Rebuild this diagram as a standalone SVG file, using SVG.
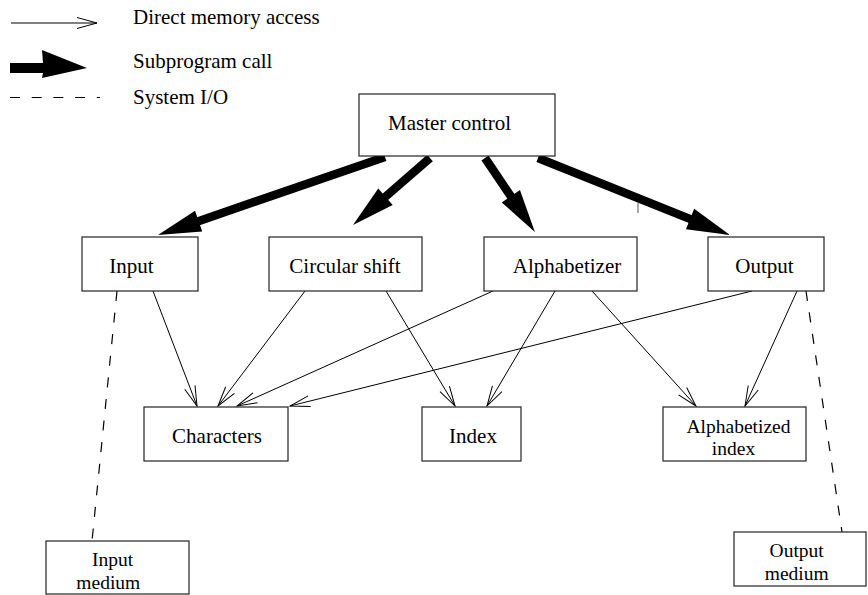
<svg xmlns="http://www.w3.org/2000/svg" width="868" height="595" viewBox="0 0 868 595">
  <style>
    .box { fill: #fff; stroke: #222; stroke-width: 1.2; }
    text { font-family: "Liberation Serif", "DejaVu Serif", "Times New Roman", serif; font-size: 21px; fill: #000; }
    .lbl { text-anchor: middle; }
    .two { font-size: 19.5px; }
    .mem { stroke: #000; stroke-width: 1; fill: none; marker-end: url(#open); }
    .call { stroke: #000; stroke-width: 8.5; stroke-linecap: butt; fill: none; marker-end: url(#solid); }
    .io { stroke: #000; stroke-width: 1.2; fill: none; stroke-dasharray: 10 11.7; }
  </style>
  <defs>
    <marker id="open" markerUnits="userSpaceOnUse" orient="auto" markerWidth="24" markerHeight="14" refX="22" refY="7" viewBox="0 0 24 14" overflow="visible">
      <path d="M2,1.5 L22,7 L2,12.5" fill="none" stroke="#000" stroke-width="1"/>
    </marker>
    <marker id="solid" markerUnits="userSpaceOnUse" orient="auto" markerWidth="44" markerHeight="24" refX="1" refY="12" viewBox="0 0 44 24" overflow="visible">
      <path d="M0,1 L43,12 L0,23 Z" fill="#000"/>
    </marker>
  </defs>

  <!-- legend -->
  <g id="legend">
    <line x1="11" y1="23" x2="97" y2="23" class="mem"/>
    <text x="133" y="23.5">Direct memory access</text>
    <path d="M10,63 L43,63 L42,50 L87,68 L42,78 L43,73 L10,73 Z" fill="#000"/>
    <text x="133" y="67.7">Subprogram call</text>
    <line x1="10" y1="97.5" x2="100" y2="97.5" class="io"/>
    <text x="133" y="104">System I/O</text>
  </g>

  <!-- connectors -->
  <g id="connectors">
    <!-- subprogram calls -->
    <line x1="385" y1="157" x2="197.7" y2="221.4" class="call"/>
    <line x1="430" y1="158" x2="384.7" y2="197.4" class="call"/>
    <line x1="485" y1="158" x2="511.4" y2="197.1" class="call"/>
    <line x1="538" y1="158" x2="691" y2="219.4" class="call"/>
    <!-- direct memory access -->
    <line x1="153" y1="291" x2="197" y2="406" class="mem"/>
    <line x1="305" y1="291" x2="218" y2="406" class="mem"/>
    <line x1="493" y1="291" x2="237" y2="406" class="mem"/>
    <line x1="752" y1="291" x2="290" y2="406" class="mem"/>
    <line x1="386" y1="291" x2="455" y2="406" class="mem"/>
    <line x1="555" y1="291" x2="487" y2="406" class="mem"/>
    <line x1="592" y1="291" x2="696" y2="406" class="mem"/>
    <line x1="797" y1="291" x2="745" y2="406" class="mem"/>
    <!-- system I/O -->
    <line x1="117" y1="291" x2="92" y2="541" class="io"/>
    <line x1="806" y1="291" x2="842" y2="532" class="io"/>
    <!-- stray tick -->
    <line x1="638" y1="203" x2="638" y2="213" stroke="#555" stroke-width="1"/>
  </g>

  <g id="master">
    <rect x="359" y="94" width="196" height="62" class="box"/>
    <text x="449.5" y="130" class="lbl">Master control</text>
  </g>
  <g id="input">
    <rect x="82" y="237" width="116" height="54" class="box"/>
    <text x="131.5" y="273" class="lbl">Input</text>
  </g>
  <g id="circular-shift">
    <rect x="269" y="237" width="153" height="54" class="box"/>
    <text x="345" y="273" class="lbl">Circular shift</text>
  </g>
  <g id="alphabetizer">
    <rect x="484" y="237" width="153" height="54" class="box"/>
    <text x="567" y="273" class="lbl">Alphabetizer</text>
  </g>
  <g id="output">
    <rect x="708" y="237" width="116" height="54" class="box"/>
    <text x="764.5" y="273" class="lbl">Output</text>
  </g>
  <g id="characters">
    <rect x="144" y="407" width="144" height="54" class="box"/>
    <text x="217" y="443" class="lbl">Characters</text>
  </g>
  <g id="index">
    <rect x="422" y="407" width="99" height="54" class="box"/>
    <text x="473" y="443" class="lbl">Index</text>
  </g>
  <g id="alphabetized-index">
    <rect x="663" y="407" width="143" height="54" class="box"/>
    <text x="738.5" y="432.5" class="lbl two">Alphabetized</text>
    <text x="733.5" y="455" class="lbl two">index</text>
  </g>
  <g id="input-medium">
    <rect x="46" y="541" width="143" height="53" class="box"/>
    <text x="112.5" y="566" class="lbl two">Input</text>
    <text x="108.3" y="588.5" class="lbl two">medium</text>
  </g>
  <g id="output-medium">
    <rect x="734" y="532" width="132" height="54" class="box"/>
    <text x="796.7" y="557" class="lbl two">Output</text>
    <text x="796.7" y="579.5" class="lbl two">medium</text>
  </g>
</svg>
